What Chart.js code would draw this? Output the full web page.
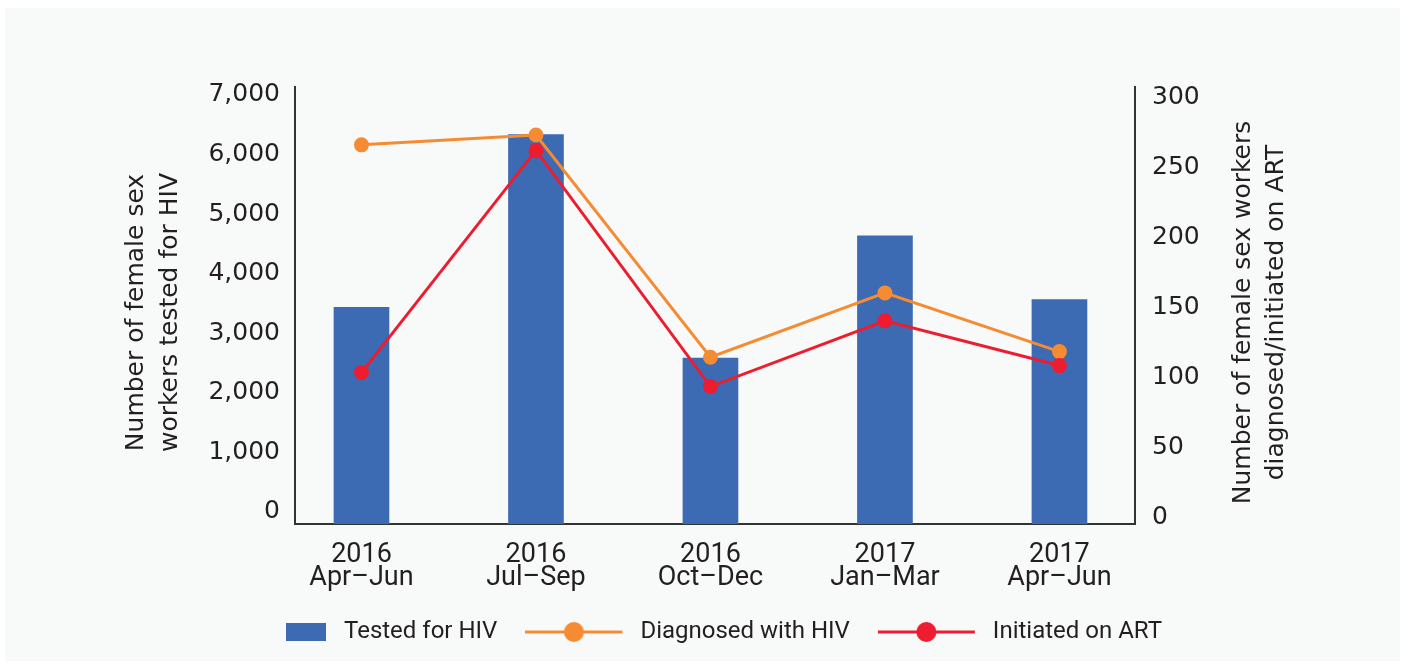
<!DOCTYPE html>
<html>
<head>
<meta charset="utf-8">
<script src="https://cdn.jsdelivr.net/npm/chart.js@4.4.1/dist/chart.umd.min.js"></script>
<style>
  html, body { margin: 0; padding: 0; background: #ffffff; }
  #panel { position: absolute; left: 5px; top: 8px; width: 1395px; height: 653px; background: #f8f9f9; }
  #wrap { position: absolute; left: 0; top: 0; width: 1408px; height: 668px; }
</style>
</head>
<body>
<div id="panel"></div>
<div id="wrap"><canvas id="hivChart"></canvas></div>
<script>
// data
const quarters = [['2016', 'Apr–Jun'], ['2016', 'Jul–Sep'], ['2016', 'Oct–Dec'], ['2017', 'Jan–Mar'], ['2017', 'Apr–Jun']];
const testedHIV = [3400, 6300, 2550, 4600, 3530];
const diagnosedHIV = [265, 272, 113, 159, 117];
const initiatedART = [102, 261, 92, 139, 107];
const leftTicks = [0, 1000, 2000, 3000, 4000, 5000, 6000, 7000];
const rightTicks = [0, 50, 100, 150, 200, 250, 300];
const leftTitle = ['Number of female sex', 'workers tested for HIV'];
const rightTitle = ['Number of female sex workers', 'diagnosed/initiated on ART'];
const seriesNames = ['Tested for HIV', 'Diagnosed with HIV', 'Initiated on ART'];

const BLUE = '#3c6ab3', ORANGE = '#f58b32', RED = '#ed1c2e';
const INK = '#231f20', AXIS = '#333333';
const leftMin = -235, leftMax = 7100;
const rightMin = -6.4, rightMax = 306.4;

const toXY = arr => arr.map((v, i) => ({ x: i, y: v }));
const setTicks = vals => s => { s.ticks = vals.map(v => ({ value: v })); };

// legend icons
function legendIcon(kind, color) {
    const c = document.createElement('canvas');
    c.width = 103; c.height = 24;
    const g = c.getContext('2d');
    if (kind === 'box') {
        g.fillStyle = color;
        g.fillRect(57, 3, 40, 18);
    } else {
        g.strokeStyle = color;
        g.lineWidth = 3;
        g.beginPath(); g.moveTo(0, 12); g.lineTo(97, 12); g.stroke();
        g.fillStyle = color;
        g.beginPath(); g.arc(48.5, 12, 10, 0, Math.PI * 2); g.fill();
    }
    return c;
}
const icons = [legendIcon('box', BLUE), legendIcon('line', ORANGE), legendIcon('line', RED)];

// rotated two-line axis titles (both read bottom to top)
const axisTitles = {
    id: 'axisTitles',
    afterDraw(chart) {
        const { ctx, chartArea: a } = chart;
        const cy = (a.top + a.bottom) / 2 + 7;
        ctx.save();
        ctx.fillStyle = INK;
        ctx.font = '25px "DejaVu Sans"';
        ctx.textAlign = 'center';
        ctx.textBaseline = 'alphabetic';
        [[a.left - 152, leftTitle, 34], [a.right + 115, rightTitle, 33]].forEach(([x, lines, lh]) => {
            ctx.save();
            ctx.translate(x, cy);
            ctx.rotate(-Math.PI / 2);
            lines.forEach((t, i) => ctx.fillText(t, 0, i * lh));
            ctx.restore();
        });
        ctx.restore();
    }
};

new Chart(document.getElementById('hivChart'), {
    type: 'bar',
    data: {
        datasets: [{
            type: 'bar',
            label: seriesNames[0],
            data: toXY(testedHIV),
            backgroundColor: BLUE,
            barThickness: 55,
            base: leftMin,
            yAxisID: 'y',
            order: 3,
        }, {
            type: 'line',
            label: seriesNames[1],
            data: toXY(diagnosedHIV),
            borderColor: ORANGE,
            backgroundColor: ORANGE,
            borderWidth: 3,
            pointRadius: 6,
            pointHoverRadius: 6,
            tension: 0,
            yAxisID: 'y1',
            order: 2,
        }, {
            type: 'line',
            label: seriesNames[2],
            data: toXY(initiatedART),
            borderColor: RED,
            backgroundColor: RED,
            borderWidth: 3,
            pointRadius: 6,
            pointHoverRadius: 6,
            tension: 0,
            yAxisID: 'y1',
            order: 1,
        }]
    },
    options: {
        responsive: true,
        maintainAspectRatio: false,
        animation: false,
        layout: { padding: { top: 87, left: 0, right: 17, bottom: 14 } },
        plugins: {
            tooltip: { enabled: false },
            legend: {
                position: 'bottom',
                labels: {
                    usePointStyle: true,
                    pointStyleWidth: 103,
                    padding: 28,
                    color: INK,
                    font: { family: 'Roboto', size: 24 },
                    generateLabels: chart => chart.data.datasets.map((ds, i) => ({
                        text: ds.label,
                        pointStyle: icons[i],
                        fillStyle: ds.backgroundColor,
                        strokeStyle: ds.backgroundColor,
                        lineWidth: 0,
                        fontColor: INK,
                        datasetIndex: i,
                        hidden: false,
                    }))
                }
            }
        },
        scales: {
            x: {
                type: 'linear',
                min: -0.381,
                max: 4.433,
                bounds: 'data',
                offset: false,
                grid: { display: false, drawTicks: false },
                border: { display: true, color: AXIS, width: 2 },
                afterBuildTicks: setTicks(quarters.map((q, i) => i)),
                ticks: {
                    autoSkip: false,
                    maxRotation: 0,
                    padding: 19,
                    color: INK,
                    font: { family: 'Roboto', size: 27, lineHeight: 0.88 },
                    callback: v => quarters[v] || ''
                },
                afterFit: s => { s.height = 68; }
            },
            y: {
                position: 'left',
                min: leftMin,
                max: leftMax,
                bounds: 'data',
                grid: { display: false, drawTicks: false },
                border: { display: true, color: AXIS, width: 2 },
                afterBuildTicks: setTicks(leftTicks),
                ticks: {
                    autoSkip: false,
                    padding: 15,
                    labelOffset: 2,
                    color: INK,
                    font: { family: 'DejaVu Sans', size: 25 },
                    callback: v => v.toLocaleString('en-US')
                },
                afterFit: s => { s.width = 295; }
            },
            y1: {
                position: 'right',
                min: rightMin,
                max: rightMax,
                bounds: 'data',
                grid: { display: false, drawTicks: false },
                border: { display: true, color: AXIS, width: 2 },
                afterBuildTicks: setTicks(rightTicks),
                ticks: {
                    autoSkip: false,
                    padding: 17,
                    labelOffset: 2,
                    color: INK,
                    font: { family: 'DejaVu Sans', size: 25 },
                    callback: v => String(v)
                },
                afterFit: s => { s.width = 256; }
            }
        }
    },
    plugins: [axisTitles]
});
</script>
</body>
</html>
